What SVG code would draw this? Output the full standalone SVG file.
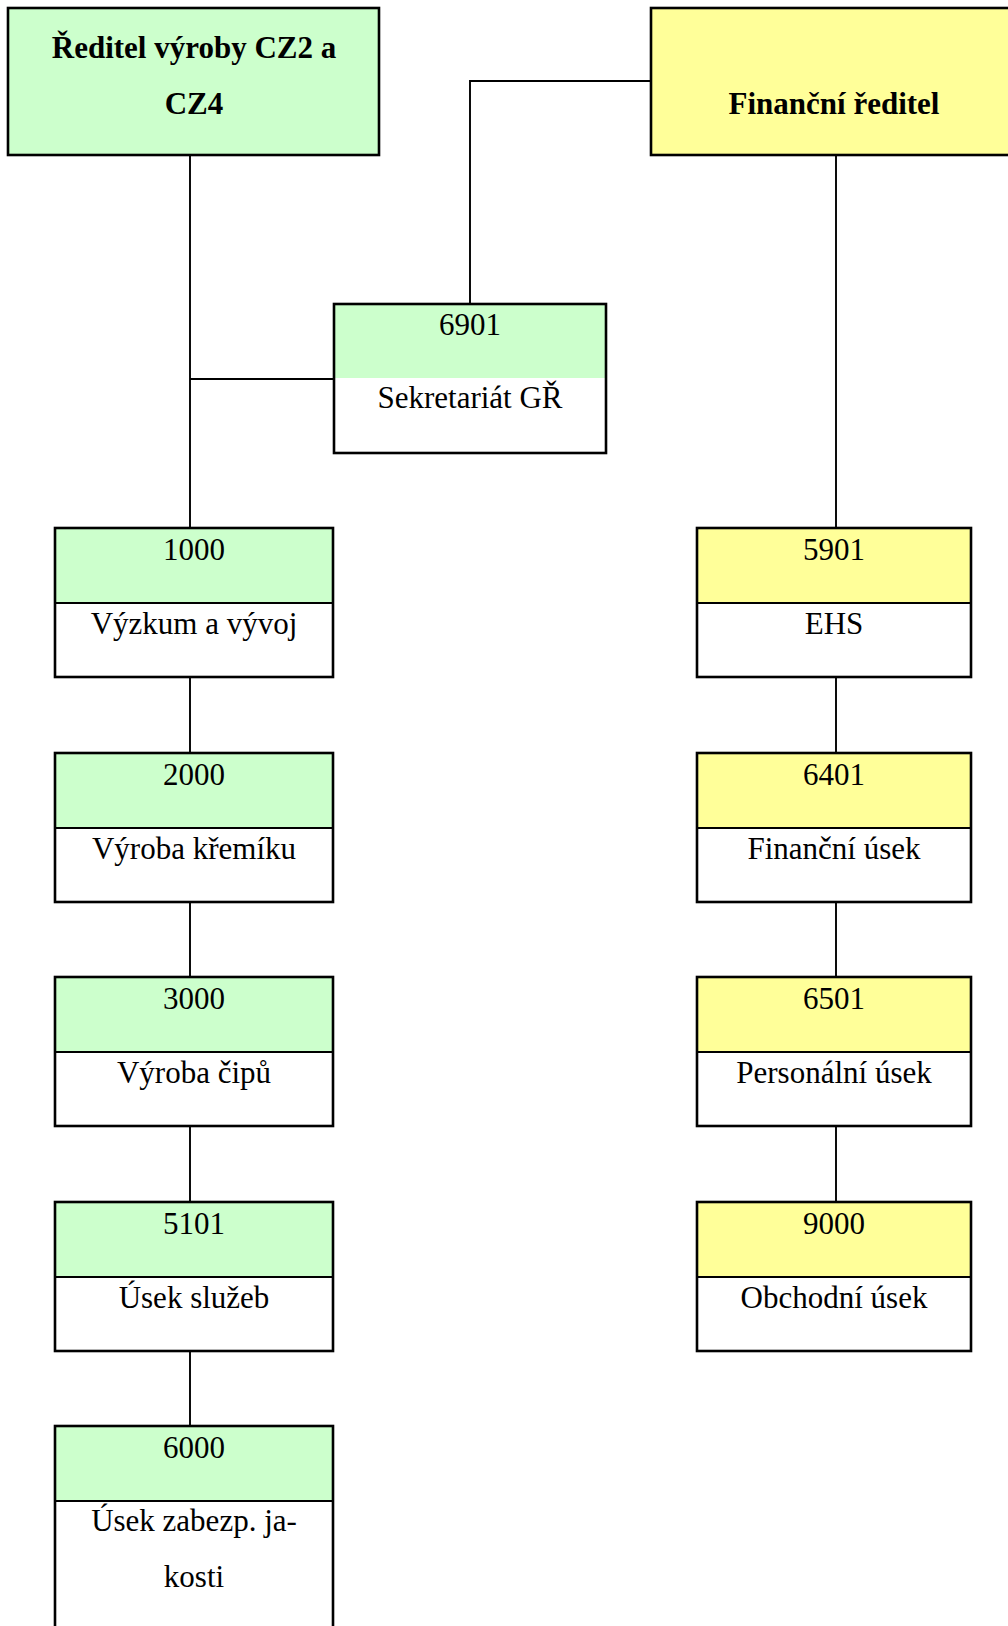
<svg xmlns="http://www.w3.org/2000/svg" width="1008" height="1626" viewBox="0 0 1008 1626">
  <style>
    .box { stroke: #000; stroke-width: 2.6; fill: none; }
    .green { fill: #CCFFCC; }
    .yellow { fill: #FFFF99; }
    .white { fill: #FFFFFF; }
    .div { stroke: #000; stroke-width: 1.8; }
    .wire { stroke: #000; stroke-width: 1.9; fill: none; }
    text { font-family: "Liberation Serif", "Times New Roman", serif; font-size: 31px; fill: #000; text-anchor: middle; }
    .head { font-weight: bold; }
  </style>
  <rect x="0" y="0" width="1008" height="1626" fill="#FFFFFF"/>

  <!-- connectors -->
  <g id="connectors">
    <path class="wire" d="M190 155 V528"/>
    <path class="wire" d="M190 379 H334"/>
    <path class="wire" d="M651 81 H470 V304"/>
    <path class="wire" d="M836 155 V528"/>
    <path class="wire" d="M190 677 V753"/>
    <path class="wire" d="M190 902 V977"/>
    <path class="wire" d="M190 1126 V1202"/>
    <path class="wire" d="M190 1351 V1426"/>
    <path class="wire" d="M836 677 V753"/>
    <path class="wire" d="M836 902 V977"/>
    <path class="wire" d="M836 1126 V1202"/>
  </g>

  <!-- top-level heads -->
  <g id="head-vyroba">
    <rect class="green" x="8" y="8" width="371" height="147"/>
    <rect class="box" x="8" y="8" width="371" height="147"/>
    <text class="head" x="194" y="58">Ředitel výroby CZ2 a</text>
    <text class="head" x="194" y="114">CZ4</text>
  </g>
  <g id="head-financni">
    <rect class="yellow" x="651" y="8" width="371" height="147"/>
    <rect class="box" x="651" y="8" width="371" height="147"/>
    <text class="head" x="834" y="114">Finanční ředitel</text>
  </g>

  <!-- secretariat -->
  <g id="n6901">
    <rect class="white" x="334" y="304" width="272" height="149"/>
    <rect class="green" x="334" y="304" width="272" height="74"/>
    <rect class="box" x="334" y="304" width="272" height="149"/>
    <text x="470" y="335">6901</text>
    <text x="470" y="408">Sekretariát GŘ</text>
  </g>

  <!-- production branch -->
  <g id="n1000">
    <rect class="white" x="55" y="528" width="278" height="149"/>
    <rect class="green" x="55" y="528" width="278" height="75"/>
    <line class="div" x1="55" y1="603" x2="333" y2="603"/>
    <rect class="box" x="55" y="528" width="278" height="149"/>
    <text x="194" y="560">1000</text>
    <text x="194" y="634">Výzkum a vývoj</text>
  </g>
  <g id="n2000">
    <rect class="white" x="55" y="753" width="278" height="149"/>
    <rect class="green" x="55" y="753" width="278" height="75"/>
    <line class="div" x1="55" y1="828" x2="333" y2="828"/>
    <rect class="box" x="55" y="753" width="278" height="149"/>
    <text x="194" y="785">2000</text>
    <text x="194" y="859">Výroba křemíku</text>
  </g>
  <g id="n3000">
    <rect class="white" x="55" y="977" width="278" height="149"/>
    <rect class="green" x="55" y="977" width="278" height="75"/>
    <line class="div" x1="55" y1="1052" x2="333" y2="1052"/>
    <rect class="box" x="55" y="977" width="278" height="149"/>
    <text x="194" y="1009">3000</text>
    <text x="194" y="1083">Výroba čipů</text>
  </g>
  <g id="n5101">
    <rect class="white" x="55" y="1202" width="278" height="149"/>
    <rect class="green" x="55" y="1202" width="278" height="75"/>
    <line class="div" x1="55" y1="1277" x2="333" y2="1277"/>
    <rect class="box" x="55" y="1202" width="278" height="149"/>
    <text x="194" y="1234">5101</text>
    <text x="194" y="1308">Úsek služeb</text>
  </g>
  <g id="n6000">
    <rect class="white" x="55" y="1426" width="278" height="220"/>
    <rect class="green" x="55" y="1426" width="278" height="75"/>
    <line class="div" x1="55" y1="1501" x2="333" y2="1501"/>
    <rect class="box" x="55" y="1426" width="278" height="220"/>
    <text x="194" y="1458">6000</text>
    <text x="194" y="1531">Úsek zabezp. ja-</text>
    <text x="194" y="1587">kosti</text>
  </g>

  <!-- finance branch -->
  <g id="n5901">
    <rect class="white" x="697" y="528" width="274" height="149"/>
    <rect class="yellow" x="697" y="528" width="274" height="75"/>
    <line class="div" x1="697" y1="603" x2="971" y2="603"/>
    <rect class="box" x="697" y="528" width="274" height="149"/>
    <text x="834" y="560">5901</text>
    <text x="834" y="634">EHS</text>
  </g>
  <g id="n6401">
    <rect class="white" x="697" y="753" width="274" height="149"/>
    <rect class="yellow" x="697" y="753" width="274" height="75"/>
    <line class="div" x1="697" y1="828" x2="971" y2="828"/>
    <rect class="box" x="697" y="753" width="274" height="149"/>
    <text x="834" y="785">6401</text>
    <text x="834" y="859">Finanční úsek</text>
  </g>
  <g id="n6501">
    <rect class="white" x="697" y="977" width="274" height="149"/>
    <rect class="yellow" x="697" y="977" width="274" height="75"/>
    <line class="div" x1="697" y1="1052" x2="971" y2="1052"/>
    <rect class="box" x="697" y="977" width="274" height="149"/>
    <text x="834" y="1009">6501</text>
    <text x="834" y="1083">Personální úsek</text>
  </g>
  <g id="n9000">
    <rect class="white" x="697" y="1202" width="274" height="149"/>
    <rect class="yellow" x="697" y="1202" width="274" height="75"/>
    <line class="div" x1="697" y1="1277" x2="971" y2="1277"/>
    <rect class="box" x="697" y="1202" width="274" height="149"/>
    <text x="834" y="1234">9000</text>
    <text x="834" y="1308">Obchodní úsek</text>
  </g>
</svg>
